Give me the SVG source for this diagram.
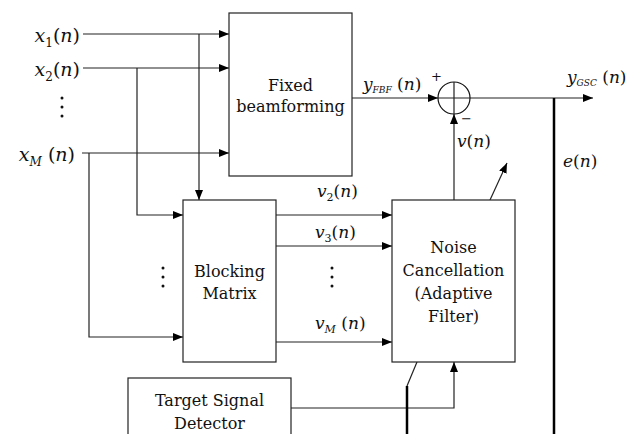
<svg xmlns="http://www.w3.org/2000/svg" width="633" height="434" viewBox="0 0 633 434">
<defs>
<style>
.box{fill:#fff;stroke:#222;stroke-width:1.2}
.ln{fill:none;stroke:#222;stroke-width:1.2}
.thick{fill:none;stroke:#000;stroke-width:2.5}
.t{font-size:16px;fill:#111}
.m{font-size:19px;fill:#111}
.s{font-size:17px;fill:#111}
.i{font-style:italic}
.dot{fill:#111}
</style>
<marker id="ar" markerWidth="10" markerHeight="8" refX="10" refY="4" orient="auto" markerUnits="userSpaceOnUse">
<path d="M0,0 L10,4 L0,8 z" fill="#000"/>
</marker>
</defs>
<rect width="633" height="434" fill="#fff"/>

<g id="connectors">
<path class="ln" d="M83,34 H229" marker-end="url(#ar)"/>
<path class="ln" d="M83,68 H229" marker-end="url(#ar)"/>
<path class="ln" d="M82,153 H229" marker-end="url(#ar)"/>
<path class="ln" d="M199,34 V200" marker-end="url(#ar)"/>
<path class="ln" d="M137,68 V215 H183" marker-end="url(#ar)"/>
<path class="ln" d="M89,153 V337 H183" marker-end="url(#ar)"/>
<path class="ln" d="M276,215 H392" marker-end="url(#ar)"/>
<path class="ln" d="M276,246 H392" marker-end="url(#ar)"/>
<path class="ln" d="M276,342 H392" marker-end="url(#ar)"/>
<path class="ln" d="M352,98 H438" marker-end="url(#ar)"/>
<path class="ln" d="M470,98 H593" marker-end="url(#ar)"/>
<path class="ln" d="M454,200 V114" marker-end="url(#ar)"/>
<path class="ln" d="M490,200 L507,163" marker-end="url(#ar)"/>
<path class="thick" d="M554,98 V434"/>
<path class="ln" d="M291,408 H454 V362" marker-end="url(#ar)"/>
<path class="thick" d="M407,434 V386"/>
<path class="ln" d="M407,386 L417,362"/>
</g>

<g id="fixed-beamforming" font-family="DejaVu Serif">
<rect class="box" x="229" y="13" width="123" height="163"/>
<text class="t" x="290.5" y="91" text-anchor="middle">Fixed</text>
<text class="t" x="290.5" y="112" text-anchor="middle">beamforming</text>
</g>

<g id="blocking-matrix" font-family="DejaVu Serif">
<rect class="box" x="183" y="200" width="93" height="162"/>
<text class="t" x="229.5" y="277" text-anchor="middle">Blocking</text>
<text class="t" x="229.5" y="299" text-anchor="middle">Matrix</text>
</g>

<g id="noise-cancellation" font-family="DejaVu Serif">
<rect class="box" x="392" y="200" width="123" height="162"/>
<text class="t" x="453.5" y="253" text-anchor="middle">Noise</text>
<text class="t" x="453.5" y="276" text-anchor="middle">Cancellation</text>
<text class="t" x="453.5" y="299" text-anchor="middle">(Adaptive</text>
<text class="t" x="453.5" y="322" text-anchor="middle">Filter)</text>
</g>

<g id="target-signal-detector" font-family="DejaVu Serif">
<rect class="box" x="128" y="378" width="163" height="70"/>
<text class="t" x="209.5" y="406" text-anchor="middle">Target Signal</text>
<text class="t" x="209.5" y="429" text-anchor="middle">Detector</text>
</g>

<g id="summer" font-family="DejaVu Serif">
<circle cx="454" cy="98" r="16" fill="none" stroke="#111" stroke-width="1.2"/>
<path class="ln" d="M438,98 H470 M454,82 V114"/>
<text x="431" y="81" font-size="13" fill="#111">+</text>
<text x="461" y="123" font-size="13" fill="#111">−</text>
</g>

<g id="labels" font-family="DejaVu Serif">
<text class="m" x="80" y="42" text-anchor="end"><tspan class="i">x</tspan><tspan font-size="12" dy="5">1</tspan><tspan dy="-5">(</tspan><tspan class="i">n</tspan>)</text>
<text class="m" x="80" y="76" text-anchor="end"><tspan class="i">x</tspan><tspan font-size="12" dy="5">2</tspan><tspan dy="-5">(</tspan><tspan class="i">n</tspan>)</text>
<text class="m" x="75" y="161" text-anchor="end"><tspan class="i">x</tspan><tspan class="i" font-size="12" dy="5">M</tspan><tspan dy="-5"> (</tspan><tspan class="i">n</tspan>)</text>
<text class="s" x="363" y="90"><tspan class="i">y</tspan><tspan class="i" font-size="9" dy="3">FBF</tspan><tspan dy="-3"> (</tspan><tspan class="i">n</tspan>)</text>
<text class="s" x="567" y="83"><tspan class="i">y</tspan><tspan class="i" font-size="9" dy="3">GSC</tspan><tspan dy="-3"> (</tspan><tspan class="i">n</tspan>)</text>
<text class="s" x="457" y="147"><tspan class="i">v</tspan>(<tspan class="i">n</tspan>)</text>
<text class="s" x="563" y="167"><tspan class="i">e</tspan>(<tspan class="i">n</tspan>)</text>
<text class="s" x="317" y="197"><tspan class="i">v</tspan><tspan font-size="11" dy="4">2</tspan><tspan dy="-4">(</tspan><tspan class="i">n</tspan>)</text>
<text class="s" x="315" y="238"><tspan class="i">v</tspan><tspan font-size="11" dy="4">3</tspan><tspan dy="-4">(</tspan><tspan class="i">n</tspan>)</text>
<text class="s" x="315" y="329"><tspan class="i">v</tspan><tspan class="i" font-size="11" dy="4">M</tspan><tspan dy="-4"> (</tspan><tspan class="i">n</tspan>)</text>
</g>

<g id="ellipses">
<circle class="dot" cx="62" cy="98" r="1.5"/><circle class="dot" cx="62" cy="107" r="1.5"/><circle class="dot" cx="62" cy="116" r="1.5"/>
<circle class="dot" cx="163" cy="268" r="1.5"/><circle class="dot" cx="163" cy="277" r="1.5"/><circle class="dot" cx="163" cy="286" r="1.5"/>
<circle class="dot" cx="332" cy="268" r="1.5"/><circle class="dot" cx="332" cy="277" r="1.5"/><circle class="dot" cx="332" cy="286" r="1.5"/>
</g>
</svg>
